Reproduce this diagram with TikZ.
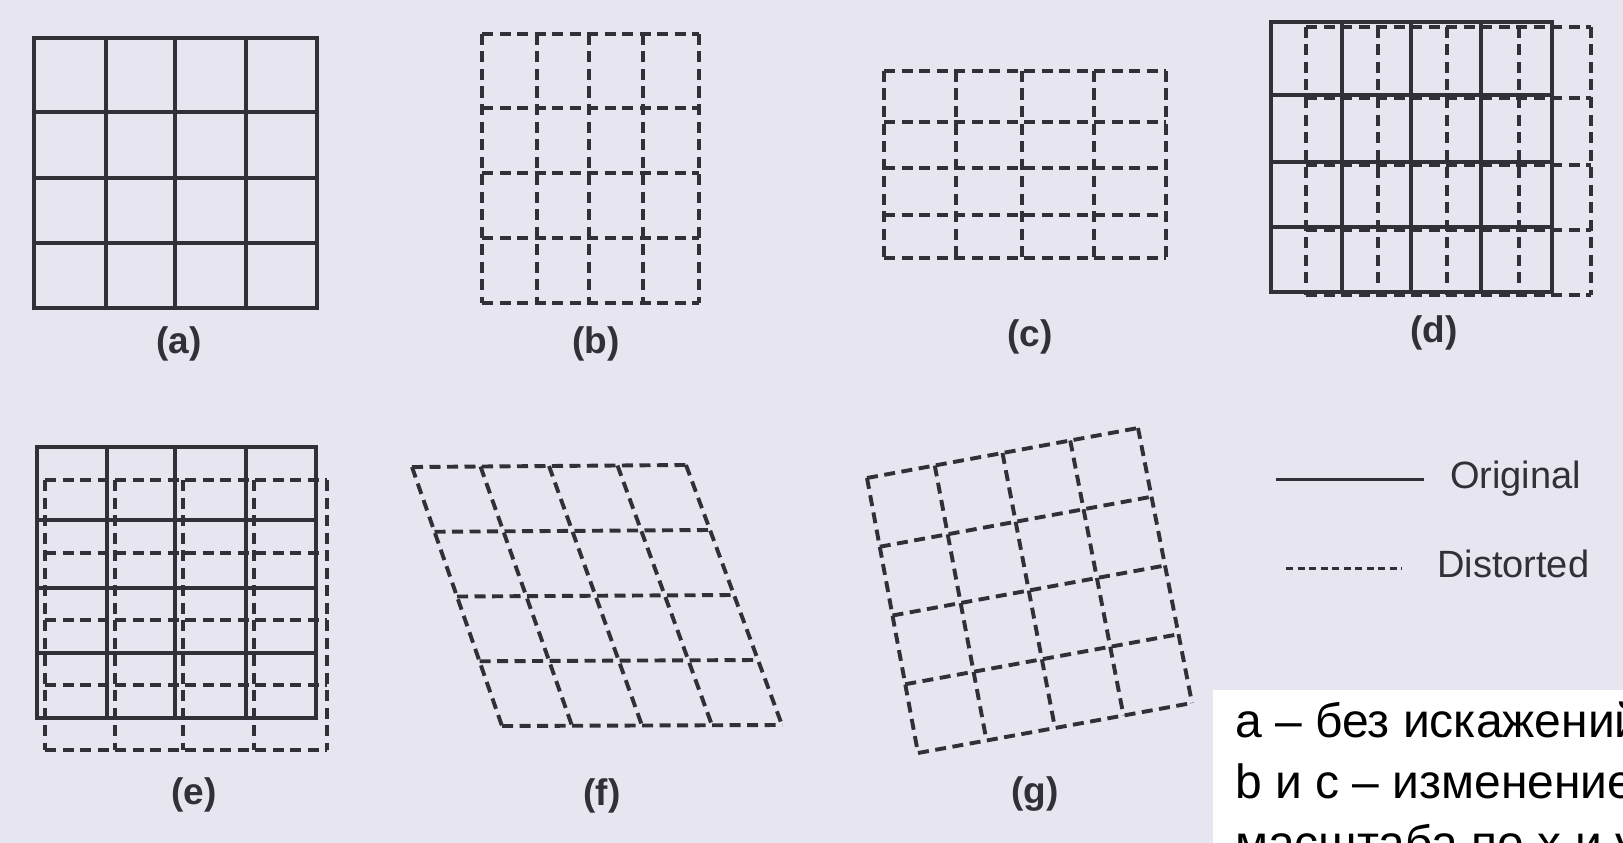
\documentclass[tikz,border=0pt]{standalone}
\usepackage{fontspec}
\setmainfont{Liberation Sans}
\usetikzlibrary{calc}
\definecolor{scanBg}{RGB}{230,229,240}
\definecolor{inkGrey}{RGB}{48,48,54}
\tikzset{
  origline/.style={draw=inkGrey, line width=3.4pt, line cap=rect},
  distline/.style={draw=inkGrey, line width=3.9pt, dash pattern=on 11pt off 6.5pt},
  legenddash/.style={draw=inkGrey, line width=3pt, dash pattern=on 7pt off 4.5pt},
  sublabel/.style={text=inkGrey, inner sep=0pt, font=\fontsize{37}{42}\selectfont\bfseries},
  legendtext/.style={text=inkGrey, inner sep=0pt, anchor=base west, font=\fontsize{38}{44}\selectfont},
  notetext/.style={text=black, inner sep=0pt, anchor=base west, font=\fontsize{48}{61}\selectfont}
}
% 4x4 mesh between four corners: style, TL, TR, BL, BR
\newcommand{\quadmesh}[5]{%
  \foreach \k in {0,...,4}{%
    \draw[#1] ($(#2)!\k/4!(#3)$) -- ($(#4)!\k/4!(#5)$);
    \draw[#1] ($(#2)!\k/4!(#4)$) -- ($(#3)!\k/4!(#5)$);
  }}
\begin{document}
\begin{tikzpicture}[x=1pt, y=-1pt]
  \useasboundingbox (0,0) rectangle (1623,843);
  \clip (0,0) rectangle (1623,843);
  \fill[scanBg] (0,0) rectangle (1623,843);

  % (a) original
  \foreach \x in {34,106,175,246,317} \draw[origline] (\x,38) -- (\x,308);
  \foreach \y in {38,112,178,243,308} \draw[origline] (34,\y) -- (317,\y);
  \node[sublabel] (lblA) at (179,344) {(a)};

  % (b) scale in x
  \foreach \x in {482,537,589,643,699} \draw[distline] (\x,34) -- (\x,303);
  \foreach \y in {34,108,173,238,303} \draw[distline] (482,\y) -- (699,\y);
  \node[sublabel] (lblB) at (596,344) {(b)};

  % (c) scale in y
  \foreach \x in {884,956,1022,1094,1166} \draw[distline] (\x,71) -- (\x,258);
  \foreach \y in {71,122,168,215,258} \draw[distline] (884,\y) -- (1166,\y);
  \node[sublabel] (lblC) at (1030,337) {(c)};

  % (d) shift in x
  \foreach \x in {1271,1342,1411,1481,1552} \draw[origline] (\x,22) -- (\x,292);
  \foreach \y in {22,95,162,227,292} \draw[origline] (1271,\y) -- (1552,\y);
  \foreach \x in {1306,1378,1447,1519,1591} \draw[distline] (\x,27) -- (\x,295);
  \foreach \y in {27,98,165,230,295} \draw[distline] (1306,\y) -- (1591,\y);
  \node[sublabel] (lblD) at (1434,333) {(d)};

  % (e) shift in y
  \foreach \x in {37,107,175,246,316} \draw[origline] (\x,447) -- (\x,718);
  \foreach \y in {447,520,588,653,718} \draw[origline] (37,\y) -- (316,\y);
  \foreach \x in {45,115,183,254,327} \draw[distline] (\x,480) -- (\x,750);
  \foreach \y in {480,553,620,685,750} \draw[distline] (45,\y) -- (327,\y);
  \node[sublabel] (lblE) at (194,795) {(e)};

  % (f) skew
  \coordinate (fTL) at (412,467);
  \coordinate (fTR) at (686,465);
  \coordinate (fBL) at (502,726);
  \coordinate (fBR) at (782,725);
  \quadmesh{distline}{fTL}{fTR}{fBL}{fBR}
  \node[sublabel] (lblF) at (602,796) {(f)};

  % (g) rotation
  \coordinate (gTL) at (867,478);
  \coordinate (gTR) at (1138,428);
  \coordinate (gBL) at (918,753);
  \coordinate (gBR) at (1192,703);
  \quadmesh{distline}{gTL}{gTR}{gBL}{gBR}
  \node[sublabel] (lblG) at (1035,794) {(g)};

  % legend
  \coordinate (origA) at (1276,479);
  \coordinate (origB) at (1424,479);
  \draw[draw=inkGrey, line width=3pt] (origA) -- (origB);
  \node[legendtext] (origTxt) at (1450,488) {Original};
  \coordinate (distA) at (1286,568);
  \coordinate (distB) at (1402,568);
  \draw[legenddash] (distA) -- (distB);
  \node[legendtext] (distTxt) at (1437,577) {Distorted};

  % note box
  \fill[white] (1213,690) rectangle (1640,860);
  \node[notetext] (note1) at (1235,737) {а – без искажений};
  \node[notetext] (note2) at (1235,798) {b и c – изменение};
  \node[notetext] (note3) at (1235,859) {масштаба по x и y};
\end{tikzpicture}
\end{document}
